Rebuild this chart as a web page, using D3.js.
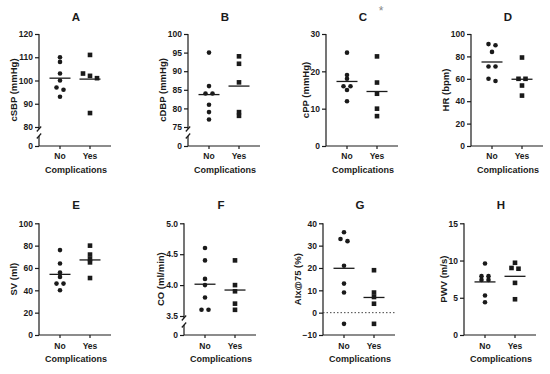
<!DOCTYPE html>
<html>
<head>
<meta charset="utf-8">
<script src="https://cdn.jsdelivr.net/npm/d3@7"></script>
<style>
  body { margin: 0; background: #fff; }
  text { font-family: "Liberation Sans", Arial, sans-serif; font-weight: bold; fill: #1a1a1a; }
</style>
</head>
<body>
<svg id="chart" width="550" height="374"></svg>
<script>
// *********************************************
// DATA
// *********************************************
var groups = ["No", "Yes"];
var panelIds = ["A", "B", "C", "D", "E", "F", "G", "H"];
var yTitles = ["cSBP (mmHg)", "cDBP (mmHg)", "cPP (mmHg)", "HR (bpm)",
               "SV (ml)", "CO (ml/min)", "AIx@75 (%)", "PWV (m/s)"];
var xTitle = "Complications";

var cSBP_no  = [110, 108, 103, 100, 97, 96, 93];
var cSBP_yes = [111, 103, 102, 101, 86];
var cDBP_no  = [95, 86, 84, 84, 81, 79, 77];
var cDBP_yes = [94, 92, 87, 79, 78];
var cPP_no   = [25, 19, 18, 16, 16, 15, 12];
var cPP_yes  = [24, 17, 14, 10, 8];
var HR_no    = [91, 90, 84, 71, 71, 60, 58];
var HR_yes   = [79, 60, 60, 54, 45];
var SV_no    = [76, 64, 56, 52, 46, 46, 40];
var SV_yes   = [80, 72, 68, 65, 51];
var CO_no    = [4.6, 4.4, 4.1, 4.0, 3.8, 3.6, 3.6];
var CO_yes   = [4.4, 4.0, 3.9, 3.7, 3.6];
var AIx_no   = [36, 33, 32, 21, 13, 9, -5];
var AIx_yes  = [19, 9, 7, 4, -5];
var PWV_no   = [9.6, 7.9, 7.9, 7.4, 7.4, 5.3, 4.4];
var PWV_yes  = [9.7, 9.0, 8.9, 7.0, 4.8];

var ticksA = [80, 90, 100, 110, 120];
var ticksB = [75, 80, 85, 90, 95, 100];
var ticksC = [0, 10, 20, 30];
var ticksD = [0, 20, 40, 60, 80, 100];
var ticksE = [0, 20, 40, 60, 80, 100];
var ticksF = [3.5, 4.0, 4.5, 5.0];
var ticksG = [-10, 0, 10, 20, 30, 40];
var ticksH = [0, 5, 10, 15];

var panels = [
  {no: cSBP_no, yes: cSBP_yes, ticks: ticksA, broken: true},
  {no: cDBP_no, yes: cDBP_yes, ticks: ticksB, broken: true},
  {no: cPP_no,  yes: cPP_yes,  ticks: ticksC, star: true},
  {no: HR_no,   yes: HR_yes,   ticks: ticksD},
  {no: SV_no,   yes: SV_yes,   ticks: ticksE},
  {no: CO_no,   yes: CO_yes,   ticks: ticksF, broken: true, fmt: ".1f"},
  {no: AIx_no,  yes: AIx_yes,  ticks: ticksG, zeroLine: true},
  {no: PWV_no,  yes: PWV_yes,  ticks: ticksH}
];

// *********************************************
// LAYOUT
// *********************************************
var rows = [
  {top: 34,    bottom: 146, title: 21,  cat: 159,   xlab: 173},
  {top: 223.3, bottom: 335, title: 209, cat: 348.5, xlab: 362}
];
var axisXs = [39, 188, 326, 471, 39, 184, 323, 464];
var plotW = 72, breakGap = 19, ink = "#1a1a1a";

var svg = d3.select("#chart");

// spread points sharing (almost) the same height sideways
function spread(vals, yf) {
  var pts = vals.map(v => ({v: v, y: yf(v)})).sort((a, b) => a.y - b.y);
  var clusters = [], cur = [];
  pts.forEach(function(p) {
    if (cur.length && p.y - cur[cur.length - 1].y > 3.2) { clusters.push(cur); cur = []; }
    cur.push(p);
  });
  if (cur.length) clusters.push(cur);
  clusters.forEach(c => c.forEach((p, k) => p.dx = (k - (c.length - 1) / 2) * 7));
  return pts;
}

panels.forEach(function(p, i) {
  var row = rows[Math.floor(i / 4)], ax = axisXs[i];
  var g = svg.append("g");
  var lo = p.broken ? row.bottom - breakGap : row.bottom;

  var y = d3.scaleLinear().domain(d3.extent(p.ticks)).range([lo, row.top]);
  var yv = v => (p.broken && v === 0) ? row.bottom : y(v);
  var x = d3.scalePoint().domain(groups).range([ax, ax + plotW]).padding(0.7);

  // y axis ticks
  var fmt = p.fmt ? d3.format(p.fmt) : d3.format("d");
  g.append("g").attr("transform", "translate(" + ax + ",0)")
      .call(d3.axisLeft(y).tickValues(p.ticks).tickSize(4).tickPadding(2).tickFormat(fmt));
  if (p.broken) {
    var y0 = d3.scaleLinear().domain([0, 1]).range([row.bottom, row.bottom - 10]);
    g.append("g").attr("transform", "translate(" + ax + ",0)")
      .call(d3.axisLeft(y0).tickValues([0]).tickSize(4).tickPadding(2).tickFormat(d3.format("d")));
  }
  g.selectAll(".domain").remove();
  g.selectAll(".tick line").attr("stroke", ink).attr("stroke-width", 1.2);
  g.selectAll(".tick text").attr("font-size", 8.5).attr("fill", ink)
      .style("font-family", "'Liberation Sans', Arial, sans-serif").style("font-weight", "bold");

  // y axis line (with break)
  var line = d3.line();
  var axisPaths = [];
  if (p.broken) {
    var lb = y(p.ticks[0]);
    axisPaths.push([[ax, row.top], [ax, lb + 2]]);
    axisPaths.push([[ax - 2.2, lb + 4.5], [ax + 2.2, lb - 0.5]]);
    axisPaths.push([[ax - 2.2, lb + 11.5], [ax + 2.2, lb + 6.5]]);
    axisPaths.push([[ax, lb + 9], [ax, row.bottom]]);
  } else {
    axisPaths.push([[ax, row.top], [ax, row.bottom]]);
  }
  // x axis line and ticks
  axisPaths.push([[ax, row.bottom], [ax + plotW, row.bottom]]);
  groups.forEach(k => axisPaths.push([[x(k), row.bottom], [x(k), row.bottom + 3]]));
  g.selectAll("path.ax").data(axisPaths).enter().append("path").attr("class", "ax")
      .attr("d", line).attr("fill", "none").attr("stroke", ink).attr("stroke-width", 1.2);

  if (p.zeroLine) {
    g.append("path").attr("d", line([[ax, y(0)], [ax + plotW, y(0)]]))
      .attr("fill", "none").attr("stroke", "#444").attr("stroke-width", 1)
      .attr("stroke-dasharray", "1.5,2");
  }

  // points
  var nPts = spread(p.no, yv), yPts = spread(p.yes, yv);
  g.selectAll("circle").data(nPts).enter().append("circle")
      .attr("cx", d => x("No") + d.dx).attr("cy", d => d.y)
      .attr("r", 2.3).attr("fill", ink);
  g.selectAll("rect.pt").data(yPts).enter().append("rect").attr("class", "pt")
      .attr("x", d => x("Yes") + d.dx - 2.3).attr("y", d => d.y - 2.3)
      .attr("width", 4.6).attr("height", 4.6).attr("fill", ink);

  // mean lines
  [["No", p.no], ["Yes", p.yes]].forEach(function(s) {
    var m = yv(d3.mean(s[1]));
    g.append("path").attr("d", line([[x(s[0]) - 10.5, m], [x(s[0]) + 10.5, m]]))
      .attr("fill", "none").attr("stroke", ink).attr("stroke-width", 1.3);
  });

  // texts
  groups.forEach(function(k) {
    g.append("text").attr("x", x(k)).attr("y", row.cat).attr("text-anchor", "middle")
      .attr("font-size", 8.5).text(k);
  });
  g.append("text").attr("x", ax + 37).attr("y", row.xlab).attr("text-anchor", "middle")
      .attr("font-size", 9).text(xTitle);
  g.append("text").attr("x", ax + 37).attr("y", row.title).attr("text-anchor", "middle")
      .attr("font-size", 11.5).text(panelIds[i]);

  var minX = d3.min(g.selectAll(".tick text").nodes(), n => n.getBBox().x) + ax;
  g.append("text")
      .attr("transform", "translate(" + (minX - 2) + "," + ((row.top + row.bottom) / 2) + ") rotate(-90)")
      .attr("text-anchor", "middle").attr("font-size", 9.5).text(yTitles[i]);

  if (p.star) {
    g.append("text").attr("x", ax + 55).attr("y", 15).attr("text-anchor", "middle")
      .attr("font-size", 12).style("font-weight", "normal").style("fill", "#888").text("*");
  }
});
</script>
</body>
</html>
